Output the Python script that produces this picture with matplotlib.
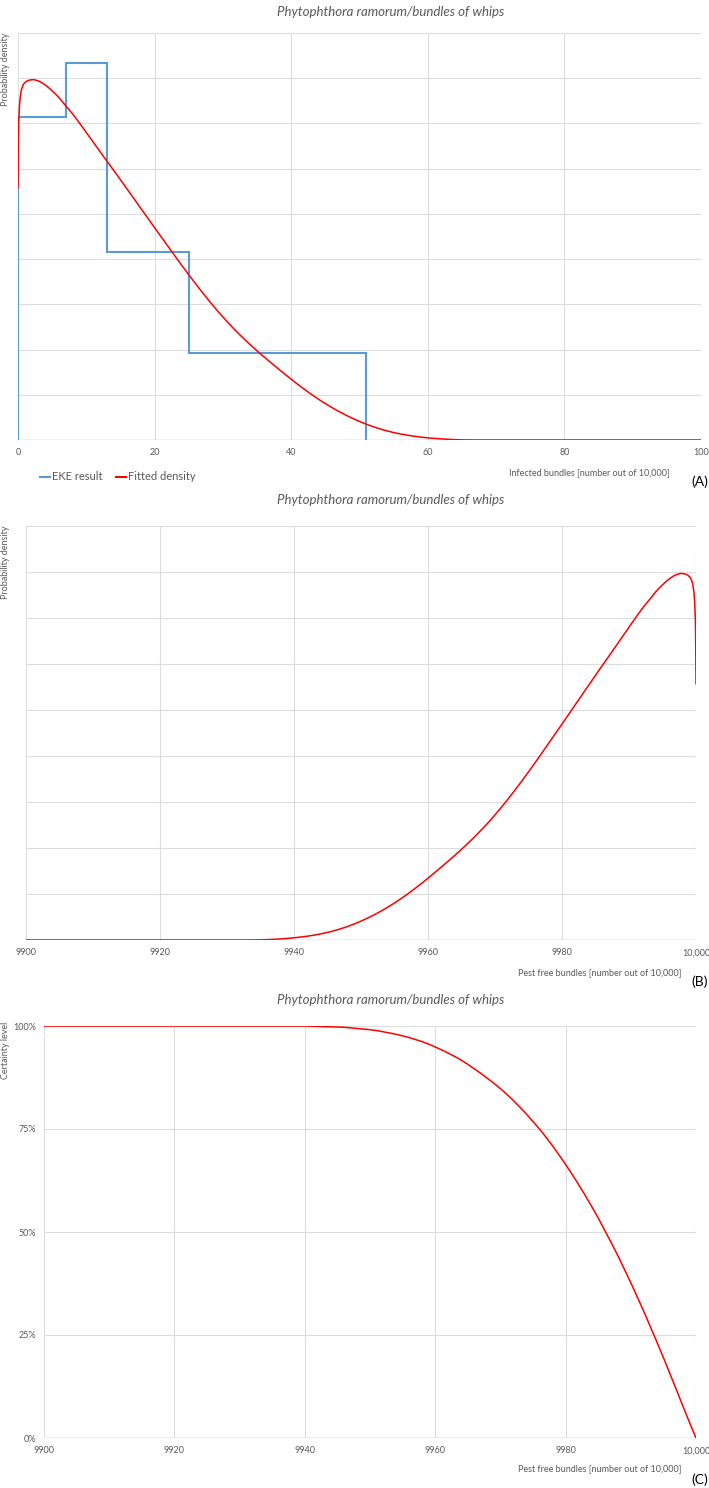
import matplotlib
matplotlib.use("Agg")
import matplotlib.pyplot as plt
from matplotlib.ticker import PercentFormatter

plt.rcParams['font.family'] = ['Lato', 'DejaVu Sans']

# EKE result (histogram of the elicited quartiles), infected bundles
eke_edges = [0, 7, 13, 25, 51]
eke_density = [0.0357, 0.0417, 0.0208, 0.0096]

# fitted density, infected bundles out of 10,000
fit_x = [0, 0.05, 0.1, 0.2, 0.3, 0.5, 0.8, 1.2, 1.7, 2.3, 3, 3.5, 4, 4.5, 5, 5.5,
         6, 6.5, 7, 8, 9, 10, 11, 12, 13, 14, 15, 16, 17, 18, 19, 20, 21, 22, 23,
         24, 25, 26, 27, 28, 29, 30, 31, 32, 33, 34, 35, 36, 37, 38, 39, 40, 41,
         42, 43, 44, 45, 46, 47, 48, 49, 50, 51, 52, 53, 54, 55, 56, 57, 58, 59,
         60, 61, 62, 63, 64, 65, 66, 67, 100]
fit_units = [5.57, 6.6, 7.0, 7.35, 7.55, 7.75, 7.87, 7.93, 7.96, 7.97, 7.94, 7.90,
             7.85, 7.79, 7.72, 7.65, 7.57, 7.48, 7.39, 7.21, 7.01, 6.80, 6.59,
             6.38, 6.17, 5.965, 5.755, 5.543, 5.331, 5.119, 4.907, 4.695, 4.485,
             4.275, 4.065, 3.858, 3.655, 3.456, 3.262, 3.074, 2.893, 2.720, 2.555,
             2.398, 2.249, 2.107, 1.971, 1.840, 1.713, 1.588, 1.465, 1.344, 1.226,
             1.113, 1.005, 0.902, 0.805, 0.714, 0.629, 0.550, 0.477, 0.410, 0.349,
             0.294, 0.245, 0.202, 0.165, 0.133, 0.106, 0.083, 0.064, 0.048, 0.035,
             0.024, 0.015, 0.008, 0.003, 0.001, 0.0, 0.0]
# the curve was read in grid steps; one grid step is 0.005
fit_density = [u * 0.005 for u in fit_units]

# certainty level vs pest free bundles
cert_x = [9900, 9940, 9942, 9944, 9946, 9948, 9950, 9951, 9952, 9953, 9954, 9955,
          9956, 9957, 9958, 9959, 9960, 9961, 9962, 9963, 9964, 9965, 9966, 9967,
          9968, 9969, 9970, 9971, 9972, 9973, 9974, 9975, 9976, 9977, 9978, 9979,
          9980, 9981, 9982, 9983, 9984, 9985, 9986, 9987, 9988, 9989, 9990, 9991,
          9992, 9993, 9994, 9995, 9996, 9997, 9998, 9999, 10000]
cert_level = [1.0, 1.0, 0.999, 0.998, 0.997, 0.994, 0.991, 0.989, 0.986, 0.983,
              0.980, 0.976, 0.972, 0.967, 0.962, 0.956, 0.949, 0.942, 0.934, 0.926,
              0.917, 0.907, 0.896, 0.885, 0.873, 0.861, 0.848, 0.834, 0.819, 0.803,
              0.786, 0.768, 0.750, 0.730, 0.709, 0.687, 0.664, 0.640, 0.615, 0.589,
              0.562, 0.534, 0.504, 0.474, 0.443, 0.410, 0.377, 0.342, 0.307, 0.270,
              0.233, 0.195, 0.156, 0.117, 0.077, 0.038, 0.0]

pf_ticks = [9900, 9920, 9940, 9960, 9980, 10000]
pf_labels = ['9900', '9920', '9940', '9960', '9980', '10,000']

title = 'Phytophthora ramorum/bundles of whips'
BLUE = '#5B9BD5'
RED = '#FF0000'
GRID = '#DDDDDD'
TXT = '#595959'

W, H = 709, 1488
fig = plt.figure(figsize=(W / 100, H / 100), dpi=100)


def px_axes(l, t, r, b):
    return fig.add_axes([l / W, 1 - b / H, (r - l) / W, (b - t) / H])


def fx(x):
    return x / W


def fy(y):
    return 1 - y / H


def style(ax):
    for s in ax.spines.values():
        s.set_visible(False)
    ax.grid(True, color=GRID, linewidth=0.8)
    ax.set_axisbelow(True)
    ax.tick_params(length=0, labelsize=6.5, colors=TXT, pad=6)
    ax.axhline(ax.get_ylim()[0], color='#BFBFBF', linewidth=1.0, zorder=1)


# (A) infected bundles
axA = px_axes(18, 33, 701, 440)
axA.set_xlim(0, 100)
axA.set_ylim(0, 0.045)
axA.set_xticks([0, 20, 40, 60, 80, 100])
axA.set_yticks([i * 0.005 for i in range(10)])
axA.set_yticklabels([])
style(axA)
axA.stairs(eke_density, eke_edges, baseline=0, color=BLUE, linewidth=1.5)
axA.plot(fit_x, fit_density, color=RED, linewidth=1.1)
fig.text(fx(391), fy(12), title, ha='center', va='center', style='italic', fontsize=9.5, color=TXT)
fig.text(fx(6), fy(33), 'Probability density', rotation=90, ha='center', va='top', fontsize=6.5, color=TXT)
fig.text(fx(670), fy(473), 'Infected bundles [number out of 10,000]', ha='right', va='center', fontsize=6.5, color=TXT)
fig.text(fx(708), fy(482), '(A)', ha='right', va='center', fontsize=10, color='black')
fig.legend(handles=[plt.Line2D([], [], color=BLUE, linewidth=1.5),
                    plt.Line2D([], [], color=RED, linewidth=1.5)],
           labels=['EKE result', 'Fitted density'], loc='center left',
           bbox_to_anchor=(fx(30), fy(477)), ncol=2, frameon=False, fontsize=8,
           handlelength=0.9, handletextpad=0.2, columnspacing=1.2, labelcolor=TXT)

# (B) pest free bundles, density
axB = px_axes(26, 526, 696, 940)
axB.set_xlim(9900, 10000)
axB.set_ylim(0, 0.045)
axB.set_xticks(pf_ticks)
axB.set_xticklabels(pf_labels)
axB.set_yticks([i * 0.005 for i in range(10)])
axB.set_yticklabels([])
style(axB)
axB.plot([10000 - x for x in fit_x], fit_density, color=RED, linewidth=1.1)
fig.text(fx(391), fy(500), title, ha='center', va='center', style='italic', fontsize=9.5, color=TXT)
fig.text(fx(6), fy(526), 'Probability density', rotation=90, ha='center', va='top', fontsize=6.5, color=TXT)
fig.text(fx(682), fy(973), 'Pest free bundles [number out of 10,000]', ha='right', va='center', fontsize=6.5, color=TXT)
fig.text(fx(708), fy(982), '(B)', ha='right', va='center', fontsize=10, color='black')

# (C) certainty level
axC = px_axes(44, 1026, 696, 1438)
axC.set_xlim(9900, 10000)
axC.set_ylim(0, 1)
axC.set_xticks(pf_ticks)
axC.set_xticklabels(pf_labels)
axC.set_yticks([0, 0.25, 0.5, 0.75, 1.0])
axC.yaxis.set_major_formatter(PercentFormatter(1.0, decimals=0))
style(axC)
axC.plot(cert_x, cert_level, color=RED, linewidth=1.1)
fig.text(fx(391), fy(1000), title, ha='center', va='center', style='italic', fontsize=9.5, color=TXT)
fig.text(fx(6), fy(1022), 'Certainty level', rotation=90, ha='center', va='top', fontsize=6.5, color=TXT)
fig.text(fx(682), fy(1469), 'Pest free bundles [number out of 10,000]', ha='right', va='center', fontsize=6.5, color=TXT)
fig.text(fx(708), fy(1480), '(C)', ha='right', va='center', fontsize=10, color='black')

fig.savefig('out.png', dpi=100)
